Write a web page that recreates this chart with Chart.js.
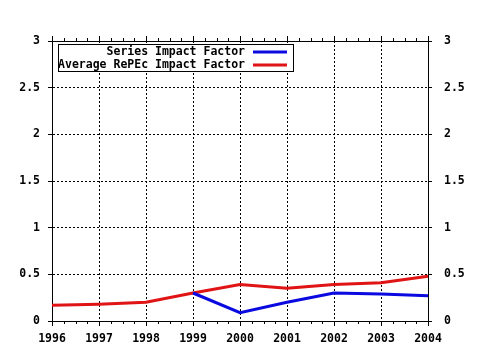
<!DOCTYPE html>
<html>
<head>
<meta charset="utf-8">
<script src="https://cdn.jsdelivr.net/npm/chart.js@4/dist/chart.umd.min.js"></script>
<style>
  html, body { margin: 0; padding: 0; background: #fff; }
  #wrap { width: 480px; height: 350px; position: relative; }
</style>
</head>
<body>
<div id="wrap"><canvas id="impactChart" width="480" height="350"></canvas></div>
<script>
var years = ['1996', '1997', '1998', '1999', '2000', '2001', '2002', '2003', '2004'];
var seriesImpact = [null, null, null, 0.30, 0.09, 0.20, 0.30, 0.29, 0.27];
var repecImpact = [0.17, 0.18, 0.20, 0.30, 0.39, 0.35, 0.39, 0.41, 0.48];
var yTicks = [0, 0.5, 1, 1.5, 2, 2.5, 3];
var legendLabels = ['Series Impact Factor', 'Average RePEc Impact Factor'];

var FONT = { family: '"DejaVu Sans Mono", monospace', size: 11.5, weight: 'bold' };
var BLUE = '#0a0ae0';
var RED = '#e01414';

function yLabel(v) {
  return String(v).replace('.', ',') === String(v) ? String(v) : String(v);
}

// ticks on top/bottom edges + top border + boxed legend
var framePlugin = {
  id: 'frame',
  afterDraw: function(chart) {
    var ctx = chart.ctx;
    var a = chart.chartArea;
    var xs = chart.scales.x;
    ctx.save();
    ctx.strokeStyle = '#000';
    ctx.lineWidth = 1;
    ctx.beginPath();
    ctx.moveTo(a.left, a.top + 0.5);
    ctx.lineTo(a.right, a.top + 0.5);
    for (var i = 0; i < years.length - 1; i++) {
      for (var q = 0; q <= 4; q++) {
        if (q === 4 && i < years.length - 2) continue;
        var px = Math.round(xs.getPixelForValue(i + q / 4)) + 0.5;
        var len = (q === 0 || q === 4) ? 5 : 3;
        ctx.moveTo(px, a.top);
        ctx.lineTo(px, a.top - len);
        if (q !== 0 && q !== 4) {
          ctx.moveTo(px, a.bottom);
          ctx.lineTo(px, a.bottom + len);
        }
      }
    }
    ctx.stroke();

    // legend
    var bx = 58, by = 44, bw = 235, bh = 27;
    ctx.fillStyle = '#fff';
    ctx.fillRect(bx, by, bw, bh);
    ctx.strokeRect(bx + 0.5, by + 0.5, bw, bh);
    ctx.font = FONT.weight + ' ' + FONT.size + 'px ' + FONT.family;
    ctx.textAlign = 'right';
    ctx.textBaseline = 'middle';
    var colors = [BLUE, RED];
    legendLabels.forEach(function(lbl, k) {
      var cy = by + 8 + k * 13;
      ctx.fillStyle = '#000';
      ctx.fillText(lbl, 245, cy);
      ctx.strokeStyle = colors[k];
      ctx.lineWidth = 3;
      ctx.beginPath();
      ctx.moveTo(253, cy);
      ctx.lineTo(287, cy);
      ctx.stroke();
    });
    ctx.restore();
  }
};

var yScaleBase = function(pos) {
  return {
    type: 'linear',
    position: pos,
    min: 0,
    max: 3,
    afterBuildTicks: function(s) { s.ticks = yTicks.map(function(v) { return { value: v }; }); },
    afterFit: function(s) { s.width = 52; },
    ticks: {
      color: '#000',
      font: FONT,
      padding: pos === 'left' ? 8 : 12,
      callback: function(v) { return String(v); }
    },
    grid: {
      display: pos === 'left',
      color: '#000',
      lineWidth: 1,
      drawTicks: true,
      tickLength: 4,
      tickBorderDash: [],
      tickColor: '#000'
    },
    border: { display: true, color: '#000', width: 1, dash: [2, 2] }
  };
};

var yRight = yScaleBase('right');
yRight.grid = { display: true, drawOnChartArea: false, color: '#000', tickLength: 4, tickColor: '#000' };

new Chart(document.getElementById('impactChart'), {
  type: 'line',
  data: {
    labels: years,
    datasets: [{
      label: legendLabels[0],
      data: seriesImpact,
      borderColor: BLUE,
      borderWidth: 3,
      pointRadius: 0,
      tension: 0,
      spanGaps: false
    }, {
      label: legendLabels[1],
      data: repecImpact,
      borderColor: RED,
      borderWidth: 3,
      pointRadius: 0,
      tension: 0
    }]
  },
  options: {
    responsive: false,
    animation: false,
    layout: { padding: { top: 41, left: 0, right: 0, bottom: 0 } },
    plugins: { legend: { display: false }, tooltip: { enabled: false } },
    scales: {
      x: {
        type: 'category',
        offset: false,
        afterFit: function(s) { s.height = 29; },
        ticks: { color: '#000', font: FONT, padding: 6, maxRotation: 0, autoSkip: false },
        grid: { color: '#000', lineWidth: 1, tickLength: 5, tickColor: '#000', tickBorderDash: [] },
        border: { display: true, color: '#000', width: 1, dash: [2, 2] }
      },
      y: yScaleBase('left'),
      y2: yRight
    }
  },
  plugins: [framePlugin]
});
</script>
</body>
</html>
